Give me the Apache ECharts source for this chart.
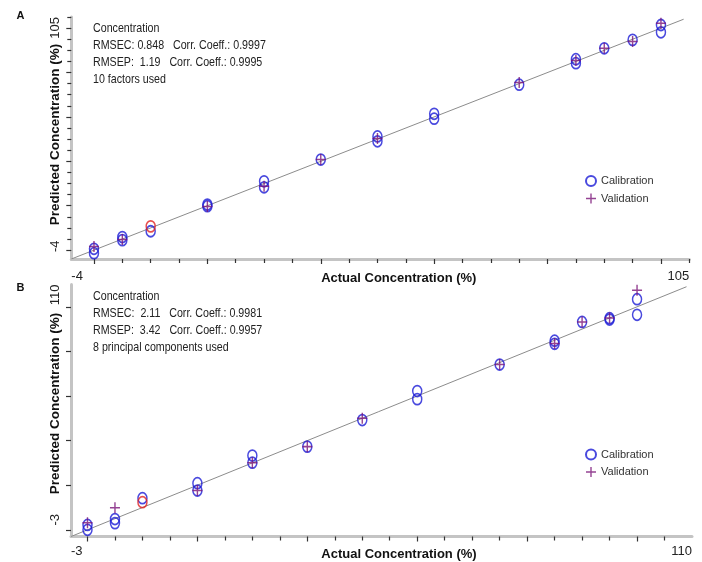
<!DOCTYPE html>
<html><head><meta charset="utf-8">
<script src="https://cdn.jsdelivr.net/npm/echarts@6/dist/echarts.min.js"></script>
<style>html,body{margin:0;padding:0;background:#fff}#c{width:702px;height:562px}</style>
</head><body><div id="c"></div>
<script>
const FONT = '"Liberation Sans", Arial, sans-serif';

// ---- Panel A: 10 factors ----
const rangeA = [-4, 105];
const calA = [[0,0.6],[0,-1.4],[5,5.9],[5,4.5],[10,8.5],[20,20.5],[20,19.8],[30,31.0],[30,28.3],[40,40.8],
  [50,51.2],[50,49.0],[60,61.4],[60,59.2],[75,74.5],[85,86.0],[85,84.2],[90,90.9],[95,94.7],[100,101.4],[100,98.1]];
const valA = [[0,1.6],[5,4.8],[20,19.6],[30,28.8],[40,40.8],[50,50.3],[75,75.5],[85,85.4],[90,90.9],[95,94.0],[100,102.2]];
const redA = [[10,10.7]];
const lineA = [[-4,-4],[104,104]];
const infoA = ['Concentration','RMSEC: 0.848   Corr. Coeff.: 0.9997','RMSEP:  1.19   Corr. Coeff.: 0.9995','10 factors used'];

// ---- Panel B: 8 principal components ----
const rangeB = [-3, 110];
const calB = [[0,2.2],[0,0.0],[5,4.8],[5,3.0],[10,14.2],[20,20.9],[20,17.6],[30,33.3],[30,30.1],[40,37.3],
  [50,49.2],[60,62.2],[60,58.6],[75,74.1],[85,84.8],[85,83.4],[90,93.2],[95,94.9],[95,94.3],[100,103.4],[100,96.4]];
const valB = [[0,3.2],[5,9.9],[20,17.6],[30,30.1],[40,37.3],[50,50.0],[75,74.1],[85,83.5],[90,93.2],[95,95.0],[100,107.4]];
const redB = [[10,12.4]];
const lineB = [[-3,-3],[109,109]];
const infoB = ['Concentration','RMSEC:  2.11   Corr. Coeff.: 0.9981','RMSEP:  3.42   Corr. Coeff.: 0.9957','8 principal components used'];

const majorTicks = [0,20,40,60,80,100];
const minorTicks = [5,10,15,25,30,35,45,50,55,65,70,75,85,90,95,105];
const legendNames = ['Calibration','Validation'];
const xTitle = 'Actual Concentration (%)';
const yTitle = 'Predicted Concentration (%)';

const BLUE = '#1c1cd6', PURPLE = '#7a1478', RED = '#e02020';
const PLUS = 'path://M4.3,0H5.7V10H4.3Z M0,4.3H10V5.7H0Z';
const tickStyle = {color:'#333', width:1.2};
const axisLineStyle = {color:'#c4c4c4', width:3};

function xMain(g, range, labelMargin, nameGap, namePad) {
  return {type:'value', gridIndex:g, min:range[0], max:range[1], position:'bottom',
    axisLine:{show:true, onZero:false, lineStyle:axisLineStyle},
    axisTick:{show:true, customValues:majorTicks, length:5, lineStyle:tickStyle},
    axisLabel:{show:true, customValues:range, alignMinLabel:'left', alignMaxLabel:'right',
      margin:labelMargin, fontSize:13, color:'#222', fontFamily:FONT},
    splitLine:{show:false},
    name:xTitle, nameLocation:'middle', nameGap:nameGap, nameMoveOverlap:false,
    nameTextStyle:{fontWeight:'bold', fontSize:13, color:'#111', fontFamily:FONT, padding:[0,0,0,namePad]}};
}
function xMinor(g, range) {
  return {type:'value', gridIndex:g, min:range[0], max:range[1], position:'bottom',
    axisLine:{show:false, onZero:false}, axisTick:{show:true, customValues:minorTicks, length:4, lineStyle:tickStyle},
    axisLabel:{show:false}, splitLine:{show:false}};
}
function yMain(g, range, ticks, labelPad, namePad) {
  return {type:'value', gridIndex:g, min:range[0], max:range[1], position:'left',
    axisLine:{show:true, onZero:false, lineStyle:axisLineStyle},
    axisTick:{show:true, customValues:ticks, length:5, lineStyle:tickStyle},
    axisLabel:{show:true, customValues:range, rotate:90, alignMinLabel:'left', alignMaxLabel:'right',
      padding:[0,0,0,labelPad], margin:9, fontSize:13, color:'#222', fontFamily:FONT},
    splitLine:{show:false},
    name:yTitle, nameLocation:'middle', nameGap:9, nameMoveOverlap:false,
    nameTextStyle:{fontWeight:'bold', fontSize:13.5, color:'#111', fontFamily:FONT, padding:[0,0,0,namePad]}};
}
function yMinor(g, range) {
  return {type:'value', gridIndex:g, min:range[0], max:range[1], position:'left',
    axisLine:{show:false, onZero:false}, axisTick:{show:true, customValues:minorTicks, length:4, lineStyle:tickStyle},
    axisLabel:{show:false}, splitLine:{show:false}};
}
function panelSeries(xi, yi, cal, val, red, line) {
  return [
    {type:'line', xAxisIndex:xi, yAxisIndex:yi, data:line, symbol:'none', silent:true,
      lineStyle:{color:'#8c8c8c', width:1}, z:1},
    {name:'Calibration', type:'scatter', xAxisIndex:xi, yAxisIndex:yi, data:cal, symbol:'circle', symbolSize:[9,11],
      itemStyle:{color:'rgba(255,255,255,0)', borderColor:BLUE, borderWidth:1.6}, z:3},
    {name:'Excluded', type:'scatter', xAxisIndex:xi, yAxisIndex:yi, data:red, symbol:'circle', symbolSize:[9,11],
      itemStyle:{color:'rgba(255,255,255,0)', borderColor:RED, borderWidth:1.6}, z:4},
    {name:'Validation', type:'scatter', xAxisIndex:xi, yAxisIndex:yi, data:val, symbol:PLUS, symbolSize:[10,11],
      itemStyle:{color:PURPLE}, z:5}
  ];
}
function legendAt(top) {
  return {left:580, top:top, orient:'vertical', itemWidth:10, itemHeight:11, itemGap:6, data:legendNames,
    selectedMode:false, textStyle:{fontSize:11, color:'#333', fontFamily:FONT}};
}

const chart = echarts.init(document.getElementById('c'), null, {renderer:'canvas'});
chart.setOption({
  animation:false,
  backgroundColor:'#fff',
  grid:[
    {left:71.3, top:17, width:618, height:242, containLabel:false, outerBoundsMode:'none'},
    {left:71, top:284.5, width:621, height:252, containLabel:false, outerBoundsMode:'none'}
  ],
  xAxis:[xMain(0, rangeA, 11, 13, 37), xMinor(0, rangeA), xMain(1, rangeB, 8, 11, 35), xMinor(1, rangeB)],
  yAxis:[yMain(0, rangeA, majorTicks, 7, 7), yMinor(0, rangeA), yMain(1, rangeB, majorTicks, 11, 14)],
  legend:[legendAt(170), legendAt(443.5)],
  graphic:[
    {type:'text', x:16.5, y:16.3, style:{text:'A', font:'bold 11px '+FONT, fill:'#111', verticalAlign:'middle'}},
    {type:'text', x:16.5, y:288, style:{text:'B', font:'bold 11px '+FONT, fill:'#111', verticalAlign:'middle'}},
    {type:'text', x:93, y:19.8, scaleX:0.82, style:{text:infoA.join('\n'), font:'13px '+FONT, lineHeight:17, fill:'#222'}},
    {type:'text', x:93, y:288.2, scaleX:0.82, style:{text:infoB.join('\n'), font:'13px '+FONT, lineHeight:17, fill:'#222'}}
  ],
  series:[].concat(
    panelSeries(0, 0, calA, valA, redA, lineA),
    panelSeries(2, 2, calB, valB, redB, lineB)
  )
});
</script></body></html>
